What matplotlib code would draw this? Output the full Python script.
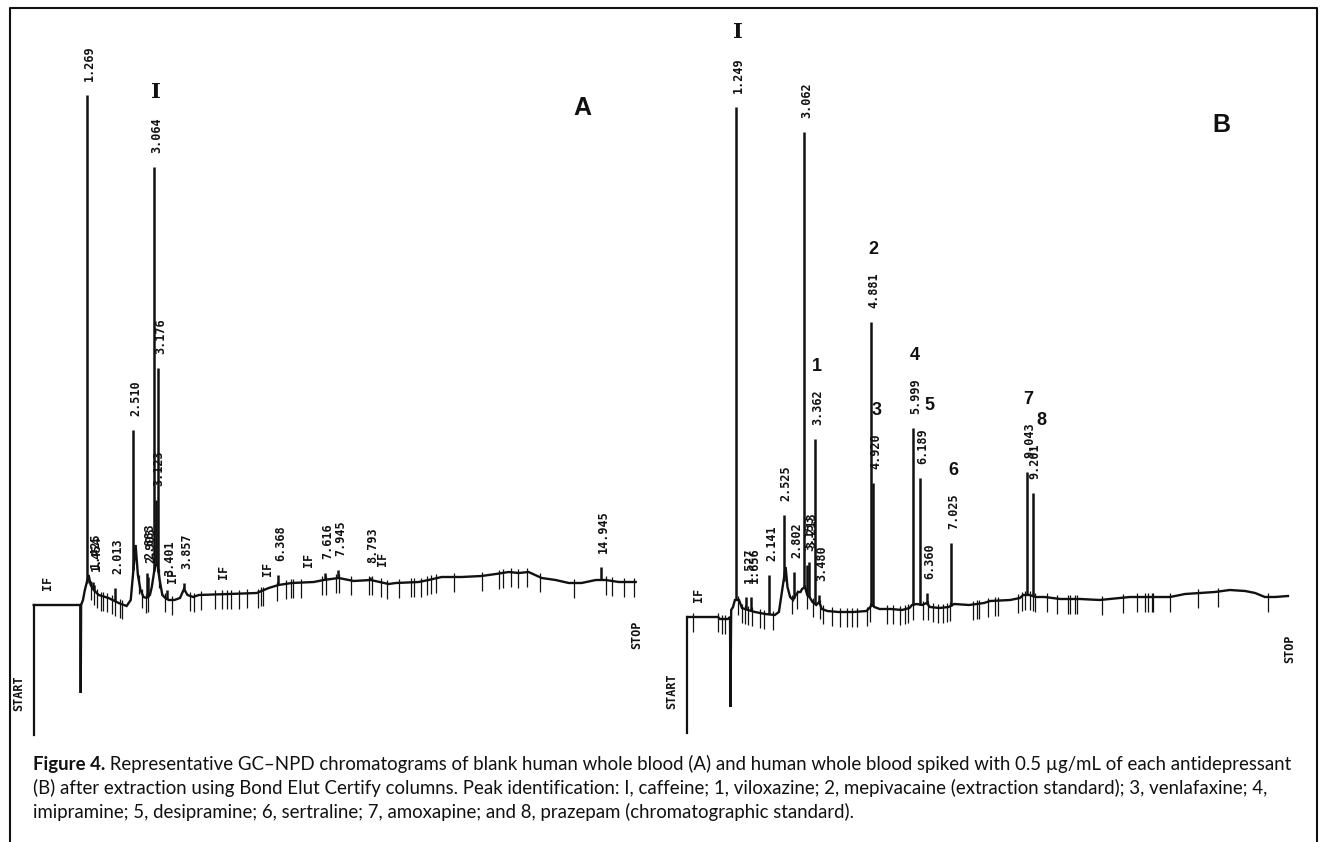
import numpy as np
import matplotlib
matplotlib.use("Agg")
import matplotlib.pyplot as plt
from matplotlib.lines import Line2D
from matplotlib import font_manager

INK = "#111111"
W, H = 1326, 842

# ---- panel A: blank whole blood (time in min, detector signal in arbitrary units)
A_trace_t = [-0.14, 1.10, 1.11, 1.12, 1.17, 1.22, 1.32, 1.375, 1.455, 1.59,
             1.85, 2.12, 2.33, 2.44, 2.57, 2.63, 2.70, 2.78, 2.86, 2.95,
             3.00, 3.09, 3.15, 3.21, 3.28, 3.36, 3.45, 3.60, 3.75, 3.857,
             3.95, 4.10, 4.25, 5.05, 5.79, 6.11, 6.37, 6.72, 7.31, 7.57,
             7.97, 8.37, 8.82, 9.30, 9.49, 10.10, 10.36, 10.71, 11.24, 11.77,
             12.15, 12.49, 12.76, 13.02, 13.37, 13.74, 14.09, 14.43, 14.81, 15.07,
             15.42, 15.87]
A_trace_s = [0, 0, -88, 0, 5, 15, 30, 20, 15, 10,
             7, 2, -1, 5, 60, 30, 15, 8, 7, 10,
             18, 40, 40, 25, 10, 7, 5, 5, 7, 16,
             10, 8, 10, 11, 12, 17, 20, 22, 23, 25,
             27, 24, 25, 21, 22, 23, 25, 28, 28, 29,
             31, 33, 32, 33, 27, 25, 22, 22, 25, 25,
             23, 23]
A_peak_t = [1.269, 1.425, 1.454, 2.013, 2.510, 2.883, 2.903, 3.064, 3.123,
            3.176, 3.401, 3.857, 6.368, 7.616, 7.945, 8.793, 14.945]
A_peak_h = [510, 23, 20, 17, 175, 32, 28, 438, 105,
            237, 15, 22, 30, 32, 35, 28, 38]
A_ticks = [1.375, 1.455, 1.535, 1.64, 1.695, 1.80, 1.93, 2.01, 2.15, 2.20,
           2.65, 2.73, 2.84, 2.89, 3.18, 3.34, 3.53, 4.01, 4.11, 4.30,
           4.67, 4.86, 4.99, 5.10, 5.31, 5.52, 5.82, 5.90, 5.95, 6.32,
           6.56, 6.70, 6.75, 6.96, 7.52, 7.63, 7.89, 7.97, 8.29, 8.77,
           8.85, 9.09, 9.25, 9.57, 9.89, 9.97, 10.15, 10.31, 10.42, 10.55,
           11.03, 11.77, 12.23, 12.33, 12.55, 12.73, 12.97, 13.32, 14.22, 15.07,
           15.23, 15.55, 15.82]
A_if = [0.045, 3.37, 4.73, 5.90, 6.99, 8.96]
A_ids = ["I"]
A_id_t = [3.064]

# ---- panel B: whole blood spiked with 0.5 ug/mL of each antidepressant
B_trace_t = [-0.06, 0.77, 0.82, 1.03, 1.09, 1.10, 1.12, 1.17, 1.22, 1.33,
             1.41, 1.57, 1.76, 2.03, 2.29, 2.40, 2.58, 2.63, 2.70, 2.78,
             2.85, 2.92, 2.98, 3.02, 3.10, 3.16, 3.22, 3.30, 3.40, 3.48,
             3.55, 3.70, 4.00, 4.40, 4.75, 4.85, 4.90, 4.96, 5.10, 5.40,
             5.70, 5.90, 5.97, 6.10, 6.24, 6.36, 6.45, 6.70, 6.95, 7.10,
             7.50, 7.90, 8.06, 8.60, 8.86, 8.95, 9.12, 9.28, 9.53, 9.94,
             10.48, 11.00, 11.54, 11.81, 12.35, 12.89, 13.29, 13.69, 14.09, 14.49,
             14.90, 15.17, 15.43, 15.70, 16.05]
B_trace_s = [0, 0, -2, -2, 0, -90, 7, 10, 17, 17,
             9, 7, 5, 3, 2, 5, 50, 30, 20, 17,
             22, 25, 25, 28, 30, 22, 20, 15, 12, 15,
             8, 6, 5, 5, 6, 10, 12, 10, 8, 8,
             7, 9, 12, 13, 12, 14, 10, 9, 10, 13,
             12, 14, 16, 17, 19, 22, 22, 20, 20, 18,
             18, 17, 19, 20, 20, 20, 23, 24, 25, 27,
             26, 24, 20, 20, 21]
B_peak_t = [1.249, 1.527, 1.656, 2.141, 2.525, 2.802, 3.062, 3.153, 3.213, 3.362,
            3.480, 4.881, 4.920, 5.999, 6.189, 6.360, 7.025, 9.043, 9.201]
B_peak_h = [510, 20, 20, 42, 102, 45, 485, 52, 55, 178,
            22, 295, 134, 189, 139, 24, 74, 145, 124]
B_ticks = [0.10, 0.77, 0.87, 0.95, 1.30, 1.41, 1.49, 1.57, 1.68, 1.89,
           2.00, 2.24, 2.75, 2.88, 3.15, 3.31, 3.50, 3.58, 3.82, 4.04,
           4.23, 4.36, 4.49, 4.76, 4.84, 5.29, 5.46, 5.65, 5.78, 5.86,
           5.99, 6.26, 6.40, 6.53, 6.67, 6.80, 6.91, 6.99, 7.60, 7.71,
           7.76, 8.01, 8.19, 8.27, 8.81, 8.91, 8.99, 9.13, 9.21, 9.26,
           9.59, 9.86, 10.15, 10.20, 10.34, 10.39, 11.06, 11.62, 12.00, 12.22,
           12.30, 12.40, 12.43, 12.88, 13.64, 14.17, 15.51]
B_if = [0.07]
B_ids = ["I", "1", "2", "3", "4", "5", "6", "7", "8"]
B_id_t = [1.249, 3.362, 4.881, 4.920, 5.999, 6.189, 7.025, 9.043, 9.201]

caption = [
    " Representative GC\u2013NPD chromatograms of blank human whole blood (A) and human whole blood "
    "spiked with 0.5 \u00b5g/mL of each antidepressant",
    "(B) after extraction using Bond Elut Certify columns. Peak identification: I, caffeine; 1, viloxazine; "
    "2, mepivacaine (extraction standard); 3, venlafaxine; 4,",
    "imipramine; 5, desipramine; 6, sertraline; 7, amoxapine; and 8, prazepam (chromatographic standard).",
]

MONO = dict(family="DejaVu Sans Mono", weight="bold", fontsize=8.5, color=INK)
# shift of some peak-number labels sideways so they clear their neighbours
id_dx = {"3": 3, "5": 6.5, "8": 6.5}


def chromatogram(ax, tr_t, tr_s, pk_t, pk_h, ticks, ifs, ids, id_t, start_bottom):
    ax.plot(tr_t, tr_s, color=INK, lw=1.7, solid_joinstyle="miter")
    # start marker
    ax.plot([tr_t[0], tr_t[0]], [tr_s[0], start_bottom], color=INK, lw=1.6)
    base = np.interp(pk_t, tr_t, tr_s)
    ax.vlines(pk_t, base, pk_h, color=INK, lw=1.8)
    for t, h in zip(pk_t, pk_h):
        ax.annotate("%.3f" % t, (t, h), xytext=(2, 10), textcoords="offset points",
                    rotation=90, ha="center", va="bottom", **MONO)
    tb = np.interp(ticks, tr_t, tr_s)
    ax.vlines(ticks, tb - 15, tb + 4, color=INK, lw=0.9)
    for t in ifs:
        y = np.interp(t, tr_t, tr_s)
        ax.annotate("IF", (t, y), xytext=(5, 16), textcoords="offset points",
                    rotation=90, ha="center", va="center", **MONO)
    top = dict(zip(pk_t, pk_h))
    for lab, t in zip(ids, id_t):
        if lab == "I":
            ax.annotate(lab, (t, top[t]), xytext=(1.5, 54), textcoords="offset points",
                        ha="center", va="center", fontsize=15, weight="bold",
                        family="DejaVu Serif", color=INK)
        else:
            ax.annotate(lab, (t, top[t]), xytext=(id_dx.get(lab, 1.5), 52),
                        textcoords="offset points", ha="center", va="center",
                        fontsize=13, weight="bold", family="Liberation Sans", color=INK)
    ax.annotate("START", (tr_t[0], start_bottom), xytext=(-11, 30), textcoords="offset points",
                rotation=90, ha="center", va="center", **MONO)
    ax.annotate("STOP", (tr_t[-1], tr_s[-1]), xytext=(1, -38), textcoords="offset points",
                rotation=90, ha="center", va="center", **MONO)


fig = plt.figure(figsize=(W / 100, H / 100), dpi=100)
fig.patch.set_facecolor("white")

axA = fig.add_axes([0, 0, 0.5, 1])
axA.set_xlim(-1.037, 16.596)
axA.set_ylim(-237, 605)
axA.axis("off")
chromatogram(axA, A_trace_t, A_trace_s, A_peak_t, A_peak_h, A_ticks, A_if, A_ids, A_id_t, -130)
axA.text(0.878, 0.872, "A", transform=axA.transAxes, ha="center", va="center",
         fontsize=18, weight="bold", family="Liberation Sans", color=INK)

axB = fig.add_axes([0.5, 0, 0.5, 1])
axB.set_xlim(-0.708, 17.07)
axB.set_ylim(-225, 617)
axB.axis("off")
chromatogram(axB, B_trace_t, B_trace_s, B_peak_t, B_peak_h, B_ticks, B_if, B_ids, B_id_t, -116)
axB.text(0.842, 0.852, "B", transform=axB.transAxes, ha="center", va="center",
         fontsize=18, weight="bold", family="Liberation Sans", color=INK)

# outer frame (open at the bottom)
fig.add_artist(Line2D([10 / W, 10 / W, 1317 / W, 1317 / W], [0, 1 - 8 / H, 1 - 8 / H, 0],
                      transform=fig.transFigure, color=INK, lw=1.5))

# caption font: a narrow face if there is one
cap_font = ["Lato", "DejaVu Sans"]
try:
    font_manager.findfont(font_manager.FontProperties(family="Liberation Sans Narrow"),
                          fallback_to_default=False)
    cap_font = ["Liberation Sans Narrow", "DejaVu Sans"]
except ValueError:
    pass

# caption, scaled so the first line fills the width
cap_x = 33
cap_y = [770, 794, 818]
fs = 11
head = fig.text(cap_x / W, 1 - cap_y[0] / H, "Figure 4.", fontsize=fs, weight="bold",
                family=cap_font, va="baseline", color=INK)
body = [fig.text(cap_x / W, 1 - y / H, s, fontsize=fs, family=cap_font, va="baseline", color=INK)
        for s, y in zip(caption, cap_y)]
fig.canvas.draw()
r = fig.canvas.get_renderer()
w1 = head.get_window_extent(r).width + body[0].get_window_extent(r).width
k = 1260 / w1
for t in [head] + body:
    t.set_fontsize(fs * k)
fig.canvas.draw()
body[0].set_x((cap_x + head.get_window_extent(r).width) / W)

fig.savefig("out.png", dpi=100, facecolor="white")
